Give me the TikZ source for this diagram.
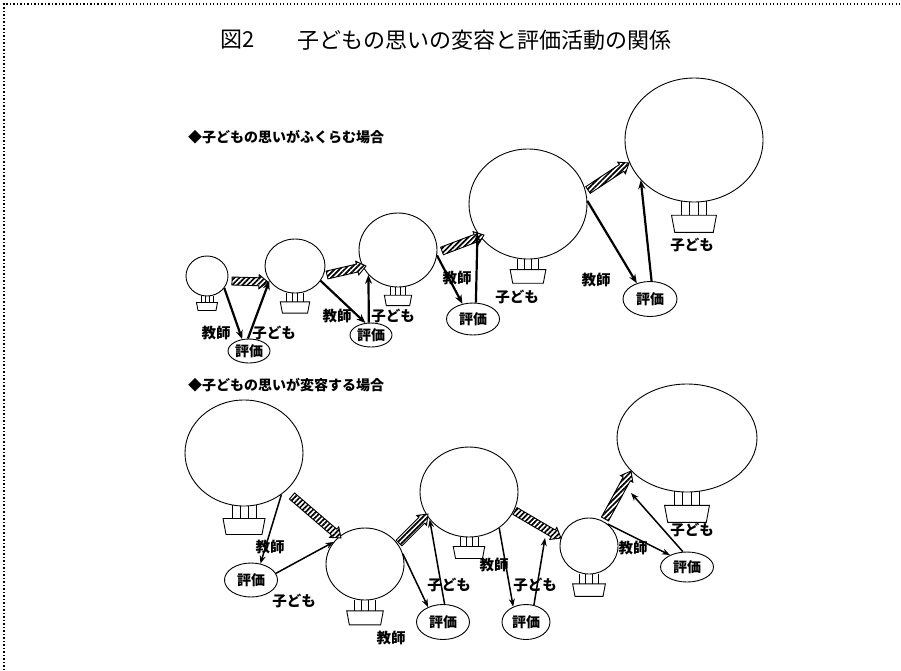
\documentclass[tikz,border=0pt]{standalone}
\usepackage{fontspec}
\newfontfamily\jp{Noto Sans CJK JP}
\usetikzlibrary{shapes.geometric,arrows.meta,calc,patterns.meta}

\tikzset{
  balloon/.style={ellipse, draw, line width=0.9pt, inner sep=0pt},
  hyoka/.style={ellipse, draw, line width=0.9pt, inner sep=0pt,
    font=\jp\bfseries\fontsize{14}{14}\selectfont},
  lbl/.style={inner sep=0pt, font=\jp\bfseries\fontsize{14.5}{14.5}\selectfont},
  head/.style={anchor=west, inner sep=0pt, font=\jp\bfseries\fontsize{14}{14}\selectfont},
  link/.style={-{Stealth[length=9pt,width=7pt]}, line width=2.2pt},
  linkb/.style={-{Stealth[length=8pt,width=6pt]}, line width=1.5pt},
  basket/.pic={
    \draw[line width=0.8pt] (-12,-1) -- (-12,12) (-4,0) -- (-4,12) (4,0) -- (4,12) (12,-1) -- (12,12);
    \draw[line width=0.9pt] (-21,12) -- (21,12) -- (18,28) -- (-18,28) -- cycle;
  },
  hatch/.pic={
    \draw[line width=0.9pt, fill=white] (0pt,-4pt) -- (#1-9pt,-4pt) -- (#1-9pt,-7pt) -- (#1,0pt)
      -- (#1-9pt,7pt) -- (#1-9pt,4pt) -- (0pt,4pt) -- cycle;
    \fill[pattern={Lines[angle=45,distance=3.6pt,line width=1.7pt]}]
      (0pt,-4pt) -- (#1-9pt,-4pt) -- (#1-9pt,-7pt) -- (#1,0pt)
      -- (#1-9pt,7pt) -- (#1-9pt,4pt) -- (0pt,4pt) -- cycle;
  }
}

% striped arrow between two named points
\newcommand{\hatched}[2]{%
  \path let \p1=($(#2)-(#1)$), \n1={veclen(\x1,\y1)}, \n2={atan2(\y1,\x1)} in
    (#1) pic[rotate=\n2] {hatch=\n1};}

\begin{document}
\begin{tikzpicture}[x=1pt, y=-1pt, font=\jp]
  \useasboundingbox (0,0) rectangle (901,670);
  \draw[line width=1.4pt, dash pattern=on 1.2pt off 2.3pt] (4,670) -- (4,4) -- (901,4);

  % title and headings
  \node[anchor=west, inner sep=0pt, font=\jp\fontsize{22}{22}\selectfont] (fig) at (220,40) {図2};
  \node[anchor=west, inner sep=0pt, font=\jp\fontsize{22}{22}\selectfont] (title) at (297,40)
    {子どもの思いの変容と評価活動の関係};
  \node[head] (top) at (188,137) {◆子どもの思いがふくらむ場合};
  \node[head] (bottom) at (188,385) {◆子どもの思いが変容する場合};

  % swelling thoughts
  \node[balloon, minimum width=42pt, minimum height=40pt] (b1) at (207,276) {};
  \node[balloon, minimum width=60pt, minimum height=54pt] (b2) at (295,266) {};
  \node[balloon, minimum width=78pt, minimum height=74pt] (b3) at (398,250) {};
  \node[balloon, minimum width=118pt, minimum height=110pt] (b4) at (528,204) {};
  \node[balloon, minimum width=138pt, minimum height=124pt] (b5) at (694,140) {};
  \pic[scale=0.5] at (b1.south) {basket};
  \pic[scale=0.7] at (b2.south) {basket};
  \pic[scale=0.65] at (b3.south) {basket};
  \pic[scale=0.85] at (b4.south) {basket};
  \pic[scale=1.07] at (b5.south) {basket};

  \node[hyoka, minimum width=42pt, minimum height=24pt] (e1) at (249,351) {評価};
  \node[hyoka, minimum width=42pt, minimum height=24pt] (e2) at (371,335) {評価};
  \node[hyoka, minimum width=53pt, minimum height=32pt] (e3) at (473,319) {評価};
  \node[hyoka, minimum width=54pt, minimum height=35pt] (e4) at (650,299) {評価};

  \coordinate (h1a) at (232,281); \coordinate (h1b) at (268,282);
  \coordinate (h2a) at (327,275); \coordinate (h2b) at (366,266);
  \coordinate (h3a) at (442,251); \coordinate (h3b) at (484,235);
  \coordinate (h4a) at (588,190); \coordinate (h4b) at (629,163);
  \hatched{h1a}{h1b}
  \hatched{h2a}{h2b}
  \hatched{h3a}{h3b}
  \hatched{h4a}{h4b}

  \draw[link] (b1.-35) -- (e1.120);
  \draw[link] (e1.95) -- (b2.-150);
  \draw[link] (b2.-30) -- (e2.115);
  \draw[link] (e2.100) -- (b3.-140);
  \draw[link] (b3.-8) -- (e3.125);
  \draw[link] (e3.80) -- (b4.-150);
  \draw[link] (b4.3) -- (e4.130);
  \draw[link] (e4.85) -- (b5.-143);

  \node[lbl] (t1) at (216,333) {教師};
  \node[lbl] (k1) at (274,333) {子ども};
  \node[lbl] (t2) at (337,316) {教師};
  \node[lbl] (k2) at (393,316) {子ども};
  \node[lbl] (t3) at (457,278) {教師};
  \node[lbl] (k3) at (517,297) {子ども};
  \node[lbl] (t4) at (596,280) {教師};
  \node[lbl] (k4) at (692,245) {子ども};

  % changing thoughts
  \node[balloon, minimum width=118pt, minimum height=106pt] (c1) at (244,453) {};
  \node[balloon, minimum width=78pt, minimum height=72pt] (c2) at (365,564) {};
  \node[balloon, minimum width=98pt, minimum height=90pt] (c3) at (469,492) {};
  \node[balloon, minimum width=58pt, minimum height=56pt] (c4) at (589,546) {};
  \node[balloon, minimum width=140pt, minimum height=108pt] (c5) at (687,438) {};
  \pic[scale=1.0] at (c1.south) {basket};
  \pic[scale=0.87] at (c2.south) {basket};
  \pic[scale=0.75] at (c3.south) {basket};
  \pic[scale=0.78] at (c4.south) {basket};
  \pic[scale=1.07] at (c5.south) {basket};

  \node[hyoka, minimum width=53pt, minimum height=34pt] (e5) at (251,580) {評価};
  \node[hyoka, minimum width=53pt, minimum height=35pt] (e6) at (443,622) {評価};
  \node[hyoka, minimum width=48pt, minimum height=35pt] (e7) at (526,622) {評価};
  \node[hyoka, minimum width=53pt, minimum height=30pt] (e8) at (687,567) {評価};

  \coordinate (g1a) at (292,496); \coordinate (g1b) at (341,538);
  \coordinate (g2a) at (399,543); \coordinate (g2b) at (428,514);
  \coordinate (g3a) at (515,511); \coordinate (g3b) at (561,538);
  \coordinate (g4a) at (605,519); \coordinate (g4b) at (631,471);
  \hatched{g1a}{g1b}
  \hatched{g2a}{g2b}
  \hatched{g3a}{g3b}
  \hatched{g4a}{g4b}

  \coordinate (up3) at (545,538);
  \coordinate (up4) at (631,493);
  \draw[linkb] (c1.-48) -- (e5.60);
  \draw[linkb] (e5.15) -- (c2.145);
  \draw[linkb] (c2.15) -- (e6.135);
  \draw[linkb] (e6.85) -- (c3.-145);
  \draw[linkb] (c3.-50) -- (e7.130);
  \draw[linkb] (e7.65) -- (up3);
  \draw[linkb] (c4.50) -- (e8.145);
  \draw[linkb] (e8.105) -- (up4);

  \node[lbl] (t5) at (270,547) {教師};
  \node[lbl] (k5) at (294,601) {子ども};
  \node[lbl] (t6) at (391,638) {教師};
  \node[lbl] (k6) at (449,585) {子ども};
  \node[lbl] (t7) at (494,565) {教師};
  \node[lbl] (k7) at (535,585) {子ども};
  \node[lbl] (t8) at (633,548) {教師};
  \node[lbl] (k8) at (692,530) {子ども};
\end{tikzpicture}
\end{document}
